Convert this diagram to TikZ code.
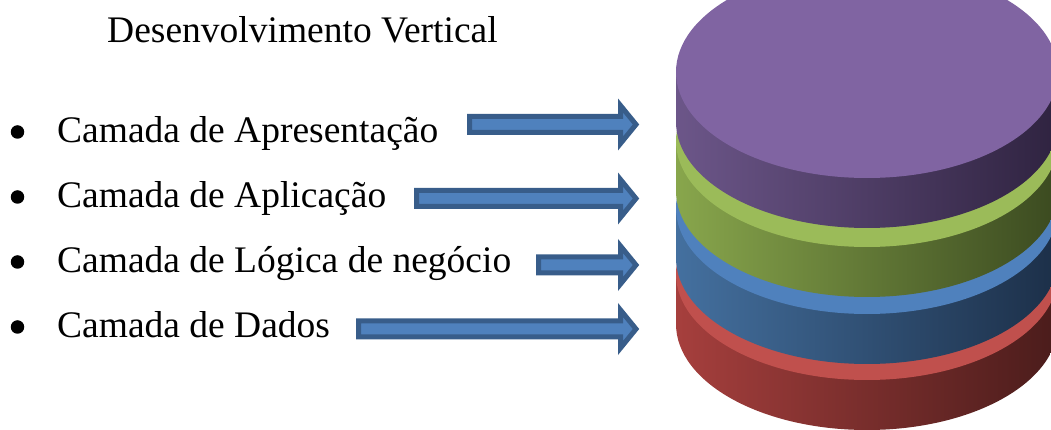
\documentclass[tikz,border=0pt]{standalone}
\usepackage{fontspec}
\setmainfont{Liberation Serif}
\definecolor{arrowfill}{HTML}{4F81BD}
\definecolor{arrowline}{HTML}{385D8A}
\definecolor{purpleTop}{HTML}{8064A2}
\definecolor{purpleL}{HTML}{6C5689}
\definecolor{purpleM}{HTML}{4B3B60}
\definecolor{purpleR}{HTML}{2F2340}
\definecolor{greenTop}{HTML}{9BBB59}
\definecolor{greenL}{HTML}{88A64C}
\definecolor{greenM}{HTML}{5A6E33}
\definecolor{greenR}{HTML}{3B4A20}
\definecolor{blueTop}{HTML}{4F81BD}
\definecolor{blueL}{HTML}{44709F}
\definecolor{blueM}{HTML}{2D4D72}
\definecolor{blueR}{HTML}{1C2F48}
\definecolor{redTop}{HTML}{C0504D}
\definecolor{redL}{HTML}{A63F3D}
\definecolor{redM}{HTML}{712D2B}
\definecolor{redR}{HTML}{4A1C1B}
% block arrow: #1 left end, #2 vertical centre
\newcommand{\layerarrow}[2]{%
  \draw[blockarrow] (#1,#2+8) -- (620.5,#2+8) -- (620.5,#2+19) -- (636,#2)
    -- (620.5,#2-19) -- (620.5,#2-8) -- (#1,#2-8) -- cycle;}
% one disc of the stack: #1 centre y of top face, #2 top, #3/#4/#5 side colours
\newcommand{\stackdisc}[5]{%
  \shade[left color=#3, middle color=#4, right color=#5]
    (676,#1) -- (676,#1-50)
    arc[start angle=180, end angle=360, x radius=191, y radius=106]
    -- (1058,#1) -- cycle;
  \fill[#2] (867,#1) ellipse[x radius=191pt, y radius=106pt];}
\tikzset{
  blockarrow/.style={fill=arrowfill, draw=arrowline, line width=5pt, line join=miter},
  label/.style={inner sep=0pt, anchor=base west, font=\fontsize{37.5}{45}\selectfont},
  bulletdot/.style={circle, fill=black, inner sep=0pt, minimum size=13.5pt}
}
\begin{document}
\begin{tikzpicture}[x=1pt, y=1pt]
\useasboundingbox (0,0) rectangle (1051,430);
\clip (0,0) rectangle (1051,430);

% title
\node[label] (title) at (107,387) {Desenvolvimento Vertical};

% list items
\node[label] (t1) at (57,287) {Camada de Apresentação};
\node[label] (t2) at (57,222) {Camada de Aplicação};
\node[label] (t3) at (57,157) {Camada de Lógica de negócio};
\node[label] (t4) at (57,92) {Camada de Dados};
\node[bulletdot] (b1) at (17.5,298) {};
\node[bulletdot] (b2) at (17.5,233) {};
\node[bulletdot] (b3) at (17.5,168) {};
\node[bulletdot] (b4) at (17.5,103) {};

% arrows towards the stack
\layerarrow{469.5}{305.5}
\layerarrow{416.5}{231.5}
\layerarrow{538.5}{165}
\layerarrow{358.5}{101}

% stacked discs, bottom first
\stackdisc{156}{redTop}{redL}{redM}{redR}
\stackdisc{222}{blueTop}{blueL}{blueM}{blueR}
\stackdisc{289}{greenTop}{greenL}{greenM}{greenR}
\stackdisc{358}{purpleTop}{purpleL}{purpleM}{purpleR}
\end{tikzpicture}
\end{document}
